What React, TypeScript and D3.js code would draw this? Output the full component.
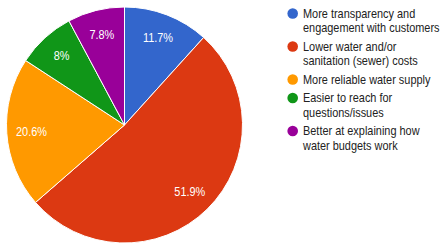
import * as d3 from "d3";
import { useEffect, useRef } from "react";

// slices, clockwise from 12 o'clock
const labels = [
  ["More transparency and", "engagement with customers"],
  ["Lower water and/or", "sanitation (sewer) costs"],
  ["More reliable water supply"],
  ["Easier to reach for", "questions/issues"],
  ["Better at explaining how", "water budgets work"],
];
const values = [11.7, 51.9, 20.6, 8, 7.8];
const valueText = ["11.7%", "51.9%", "20.6%", "8%", "7.8%"];
const colors = ["#3366cc", "#dc3912", "#ff9900", "#109618", "#990099"];

const font = "Arial, 'Liberation Sans', sans-serif";
const squash = 0.91; // text in the source is a bit narrow

export default function App() {
  const ref = useRef<SVGSVGElement>(null);

  useEffect(() => {
    const svg = d3.select(ref.current);
    svg.selectAll("*").remove();

    const width = 446;
    const height = 243;
    svg.attr("width", width).attr("height", height);

    const cx = 124.5;
    const cy = 125;
    const r = 118;

    const pie = d3.pie<number>().sort(null).value(d => d);
    const arcs = pie(values);
    const arc = d3.arc<d3.PieArcDatum<number>>().innerRadius(0).outerRadius(r);
    const labelArc = d3.arc<d3.PieArcDatum<number>>().innerRadius(r * 0.79).outerRadius(r * 0.79);

    const g = svg.append("g").attr("transform", `translate(${cx},${cy})`);

    g.selectAll("path")
      .data(arcs)
      .enter()
      .append("path")
      .attr("d", arc)
      .attr("fill", (_, i) => colors[i])
      .attr("stroke", "#fff")
      .attr("stroke-width", 1);

    g.selectAll("text.pct")
      .data(arcs)
      .enter()
      .append("text")
      .attr("class", "pct")
      .attr("transform", d => `translate(${labelArc.centroid(d)}) scale(${squash},1)`)
      .attr("text-anchor", "middle")
      .attr("dy", "0.35em")
      .style("font-family", font)
      .style("font-size", "12px")
      .attr("fill", "#fff")
      .text((_, i) => valueText[i]);

    // legend
    const legend = svg.append("g").attr("transform", "translate(292.7, 0)");
    const lineH = 14.5;
    let y = 13.5;
    labels.forEach((lines, i) => {
      const row = legend.append("g");
      row.append("circle").attr("cx", 0).attr("cy", y).attr("r", 5.3).attr("fill", colors[i]);
      lines.forEach((t, j) => {
        row.append("text")
          .attr("transform", `translate(10.3,${y + j * lineH}) scale(${squash},1)`)
          .attr("dy", "0.35em")
          .style("font-family", font)
          .style("font-size", "12px")
          .attr("fill", "#222")
          .text(t);
      });
      y += (lines.length - 1) * lineH + 18.5;
    });
  }, []);

  return <svg ref={ref} style={{ position: "absolute", left: 0, top: 0 }} />;
}
